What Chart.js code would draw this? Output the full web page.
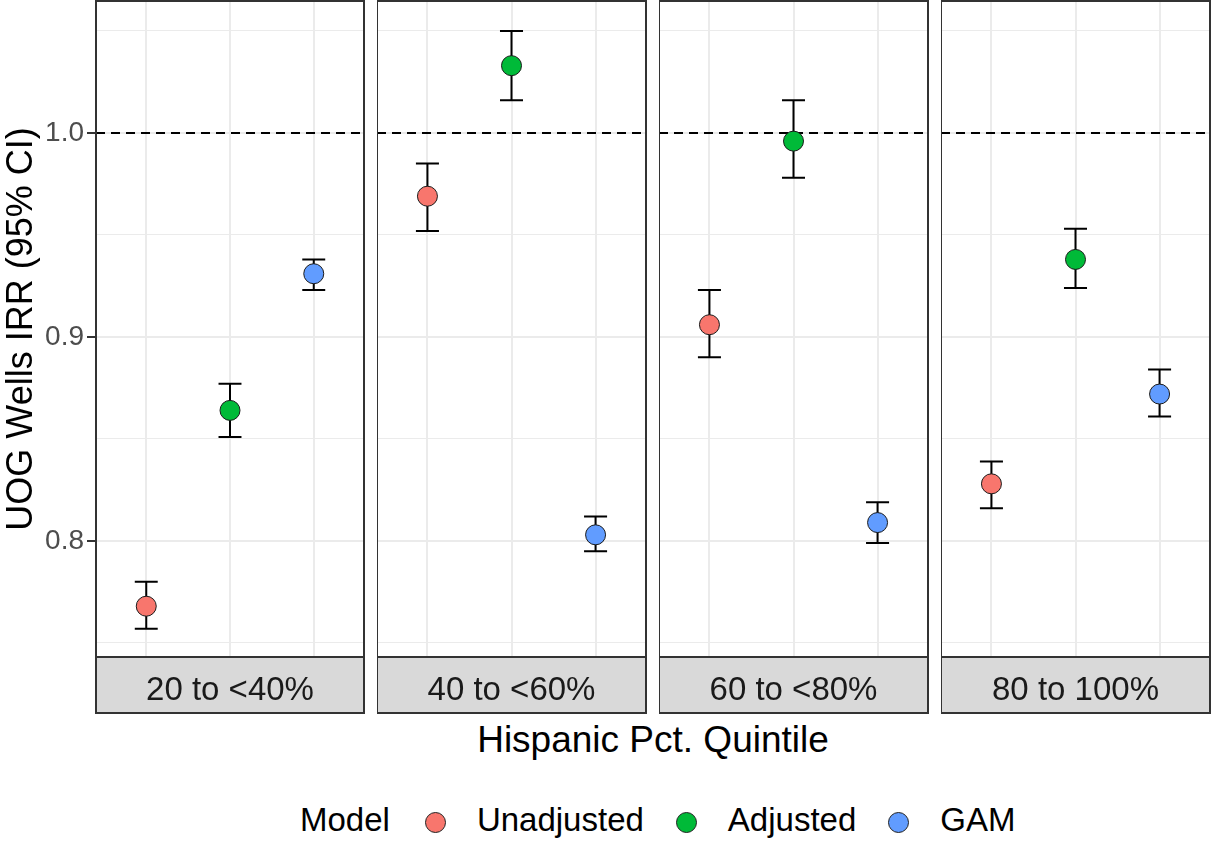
<!DOCTYPE html>
<html>
<head>
<meta charset="utf-8">
<script src="https://cdn.jsdelivr.net/npm/chart.js@4.4.1/dist/chart.umd.min.js"></script>
<style>
  body { margin: 0; background: #fff; width: 1212px; height: 844px; position: relative; overflow: hidden;
         font-family: "Liberation Sans", Arial, sans-serif; }
  .panel { position: absolute; top: 0; height: 716px; }
  #xtitle { position: absolute; left: 96px; width: 1114px; top: 719px; text-align: center; font-size: 37px; color: #000; }
  #legend { position: absolute; left: 300px; top: 801px; display: flex; align-items: center; font-size: 33px; color: #000; }
  #legend .dot { width: 19px; height: 19px; border-radius: 50%; border: 1px solid #222; position: relative; top: 2px; }
</style>
</head>
<body>
<div class="panel" style="left:0;width:366px"><canvas id="panel0"></canvas></div>
<div class="panel" style="left:377px;width:271px"><canvas id="panel1"></canvas></div>
<div class="panel" style="left:659px;width:271px"><canvas id="panel2"></canvas></div>
<div class="panel" style="left:941px;width:271px"><canvas id="panel3"></canvas></div>
<div id="xtitle">Hispanic Pct. Quintile</div>
<div id="legend"></div>
<script>
// facets and models
const quintiles = ['20 to <40%', '40 to <60%', '60 to <80%', '80 to 100%'];
const models = ['Unadjusted', 'Adjusted', 'GAM'];
const modelColors = ['#F8766D', '#00BA38', '#619CFF'];

// IRR estimates and 95% CI, one value per quintile
const unadjEst  = [0.768, 0.969, 0.906, 0.828];
const unadjLow  = [0.757, 0.952, 0.890, 0.816];
const unadjHigh = [0.780, 0.985, 0.923, 0.839];
const adjEst    = [0.864, 1.033, 0.996, 0.938];
const adjLow    = [0.851, 1.016, 0.978, 0.924];
const adjHigh   = [0.877, 1.050, 1.016, 0.953];
const gamEst    = [0.931, 0.803, 0.809, 0.872];
const gamLow    = [0.923, 0.795, 0.799, 0.861];
const gamHigh   = [0.938, 0.812, 0.819, 0.884];

const yTicks = [0.8, 0.9, 1.0];
const yGrid = [0.75, 0.8, 0.85, 0.9, 0.95, 1.0, 1.05];
const yMin = 0.7431, yMax = 1.0647;
const refLine = 1.0;

const est = [unadjEst, adjEst, gamEst];
const low = [unadjLow, adjLow, gamLow];
const high = [unadjHigh, adjHigh, gamHigh];

const isMajor = v => yTicks.some(t => Math.abs(t - v) < 1e-6);

const facetPlugin = {
  id: 'facet',
  beforeDatasetsDraw(chart) {
    const { ctx, chartArea: a, scales: { x, y } } = chart;
    ctx.save();
    // dashed reference line
    const yr = y.getPixelForValue(refLine);
    ctx.strokeStyle = '#000';
    ctx.lineWidth = 1.8;
    ctx.setLineDash([9, 6]);
    ctx.beginPath();
    ctx.moveTo(a.left, yr);
    ctx.lineTo(a.right, yr);
    ctx.stroke();
    ctx.setLineDash([]);
    // error bars
    ctx.lineWidth = 2;
    chart.data.datasets.forEach(ds => {
      const p = ds.data[0];
      const xc = x.getPixelForValue(p.x);
      const x0 = x.getPixelForValue(p.x - 0.137);
      const x1 = x.getPixelForValue(p.x + 0.137);
      const yl = y.getPixelForValue(p.lo);
      const yh = y.getPixelForValue(p.hi);
      ctx.beginPath();
      ctx.moveTo(xc, yh); ctx.lineTo(xc, yl);
      ctx.moveTo(x0, yh); ctx.lineTo(x1, yh);
      ctx.moveTo(x0, yl); ctx.lineTo(x1, yl);
      ctx.stroke();
    });
    ctx.restore();
  },
  afterDraw(chart, args, opts) {
    const { ctx, chartArea: a } = chart;
    ctx.save();
    ctx.strokeStyle = '#333333';
    ctx.lineWidth = 2;
    ctx.strokeRect(a.left, a.top, a.right - a.left, a.bottom - a.top);
    // strip below panel
    ctx.fillStyle = '#D9D9D9';
    ctx.fillRect(a.left, a.bottom, a.right - a.left, 56);
    ctx.strokeRect(a.left, a.bottom, a.right - a.left, 56);
    ctx.fillStyle = '#1A1A1A';
    ctx.font = '33px "Liberation Sans", Arial, sans-serif';
    ctx.textAlign = 'center';
    ctx.textBaseline = 'alphabetic';
    ctx.fillText(opts.label, (a.left + a.right) / 2, a.bottom + 43);
    ctx.restore();
  }
};

function makePanel(i) {
  const first = i === 0;
  const ctx = document.getElementById('panel' + i).getContext('2d');
  new Chart(ctx, {
    type: 'scatter',
    data: {
      datasets: models.map((m, k) => ({
        label: m,
        data: [{ x: k + 1, y: est[k][i], lo: low[k][i], hi: high[k][i] }],
        backgroundColor: modelColors[k],
        borderColor: '#1a1a1a',
        borderWidth: 1,
        pointRadius: 10,
        pointHoverRadius: 10
      }))
    },
    options: {
      responsive: true,
      maintainAspectRatio: false,
      animation: false,
      layout: { autoPadding: false, padding: { left: 0, right: 2, top: 1, bottom: 59 } },
      plugins: {
        legend: { display: false },
        tooltip: { enabled: false },
        facet: { label: quintiles[i] }
      },
      scales: {
        x: {
          type: 'linear',
          min: 0.4,
          max: 3.6,
          afterBuildTicks: s => { s.ticks = [1, 2, 3].map(v => ({ value: v })); },
          afterFit: s => { s.height = 0; s.paddingLeft = 0; s.paddingRight = 0; },
          ticks: { display: false },
          grid: { color: '#EBEBEB', lineWidth: 2, drawTicks: false },
          border: { display: false }
        },
        y: {
          min: yMin,
          max: yMax,
          afterBuildTicks: s => { s.ticks = yGrid.map(v => ({ value: v })); },
          afterFit: s => { s.width = first ? 96 : 0; s.paddingTop = 0; s.paddingBottom = 0; },
          ticks: {
            display: first,
            padding: 3,
            color: '#4D4D4D',
            font: { size: 28, family: '"Liberation Sans", Arial, sans-serif' },
            callback: v => isMajor(v) ? v.toFixed(1) : ''
          },
          grid: {
            color: '#EBEBEB',
            lineWidth: c => isMajor(c.tick.value) ? 2 : 1,
            drawTicks: first,
            tickLength: 9,
            tickWidth: 2,
            tickColor: c => isMajor(c.tick.value) ? '#333333' : 'rgba(0,0,0,0)'
          },
          border: { display: false },
          title: {
            display: first,
            text: 'UOG Wells IRR (95% CI)',
            color: '#000',
            padding: { top: 0, bottom: 0 },
            font: { size: 36, family: '"Liberation Sans", Arial, sans-serif' }
          }
        }
      }
    },
    plugins: [facetPlugin]
  });
}

quintiles.forEach((q, i) => makePanel(i));

// legend
const legend = document.getElementById('legend');
const title = document.createElement('span');
title.textContent = 'Model';
title.style.marginRight = '35px';
legend.appendChild(title);
models.forEach((m, k) => {
  const dot = document.createElement('span');
  dot.className = 'dot';
  dot.style.background = modelColors[k];
  dot.style.marginRight = '31px';
  legend.appendChild(dot);
  const txt = document.createElement('span');
  txt.textContent = m;
  if (k < models.length - 1) txt.style.marginRight = '32px';
  legend.appendChild(txt);
});
</script>
</body>
</html>
